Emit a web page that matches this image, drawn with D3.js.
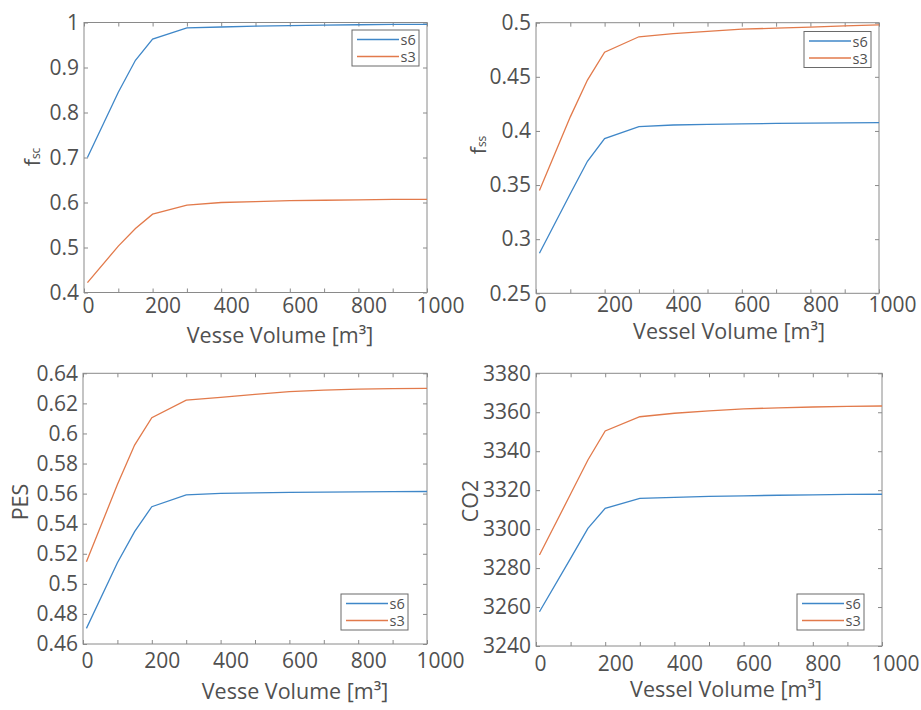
<!DOCTYPE html>
<html>
<head>
<meta charset="utf-8">
<script src="https://cdn.jsdelivr.net/npm/d3@7"></script>
<style>
body { margin: 0; background: #fff; }
svg text { font-family: "Open Sans", sans-serif; fill: #505050; }
</style>
</head>
<body>
<script>

// vessel volume [m3] used in the runs
var volume = [10, 100, 150, 200, 300, 400, 500, 600, 700, 800, 900, 1000];

// f_sc
var fscS6 = [0.700, 0.845, 0.916, 0.963, 0.988, 0.990, 0.992, 0.993, 0.994, 0.995, 0.996, 0.996];
var fscS3 = [0.422, 0.503, 0.542, 0.574, 0.594, 0.600, 0.602, 0.604, 0.605, 0.606, 0.607, 0.607];

// f_ss
var fssS6 = [0.287, 0.342, 0.372, 0.393, 0.404, 0.4055, 0.406, 0.4065, 0.407, 0.4072, 0.4074, 0.4076];
var fssS3 = [0.345, 0.413, 0.447, 0.4727, 0.487, 0.490, 0.492, 0.494, 0.495, 0.496, 0.497, 0.498];

// PES
var pesS6 = [0.4704, 0.514, 0.5347, 0.5513, 0.5591, 0.5602, 0.5605, 0.5608, 0.561, 0.5612, 0.5613, 0.5614];
var pesS3 = [0.5147, 0.566, 0.5923, 0.6105, 0.6222, 0.624, 0.626, 0.6278, 0.6288, 0.6295, 0.6298, 0.630];

// CO2
var co2S6 = [3257.6, 3285, 3300.4, 3310.7, 3315.8, 3316.3, 3316.8, 3317.1, 3317.4, 3317.6, 3317.8, 3317.9];
var co2S3 = [3286.7, 3318, 3335.5, 3350.4, 3357.7, 3359.5, 3360.7, 3361.7, 3362.3, 3362.7, 3363.0, 3363.2];

var seriesNames = ["s6", "s3"];
var seriesColors = ["#3f87c8", "#e27a4b"];

var xTicks = [0, 100, 200, 300, 400, 500, 600, 700, 800, 900, 1000];
var fscTicks = [0.4, 0.5, 0.6, 0.7, 0.8, 0.9, 1];
var fssTicks = [0.25, 0.3, 0.35, 0.4, 0.45, 0.5];
var pesTicks = [0.46, 0.48, 0.5, 0.52, 0.54, 0.56, 0.58, 0.6, 0.62, 0.64];
var co2Ticks = [3240, 3260, 3280, 3300, 3320, 3340, 3360, 3380];

var panels = [
  { s6: fscS6, s3: fscS3, ticks: fscTicks, yLabel: "f", ySub: "sc", xLabel: "Vesse Volume [m\u00b3]",
    box: [84, 22.5, 427, 292.5], xLabY: 6, yLabPos: [31, 157], xLabPos: [280, 334],
    legend: [352, 30] },
  { s6: fssS6, s3: fssS3, ticks: fssTicks, yLabel: "f", ySub: "ss", xLabel: "Vessel Volume [m\u00b3]",
    box: [536, 22.7, 879, 293.3], xLabY: 4, yLabPos: [477, 145], xLabPos: [729, 330],
    legend: [804, 31.5] },
  { s6: pesS6, s3: pesS3, ticks: pesTicks, yLabel: "PES", xLabel: "Vesse Volume [m\u00b3]",
    box: [83, 373.3, 427, 644], xLabY: 9, yLabPos: [19, 502], xLabPos: [295, 690],
    legend: [341, 594] },
  { s6: co2S6, s3: co2S3, ticks: co2Ticks, yLabel: "CO2", xLabel: "Vessel Volume [m\u00b3]",
    box: [536, 373.3, 882, 646], xLabY: 10.5, yLabPos: [469, 501], xLabPos: [726, 688],
    legend: [797, 594] }
];

var svg = d3.select("body").append("svg")
  .attr("width", 921)
  .attr("height", 710);

panels.forEach(function(p) {
  var x0 = p.box[0], y0 = p.box[1], x1 = p.box[2], y1 = p.box[3];

  var x = d3.scaleLinear().domain([0, 1000]).range([x0, x1]);
  var y = d3.scaleLinear().domain(d3.extent(p.ticks)).range([y1, y0]);

  var g = svg.append("g");

  // ticks pointing inward on all four sides
  var bottom = g.append("g").attr("transform", "translate(0," + y1 + ")")
    .call(d3.axisBottom(x).tickValues(xTicks).tickSizeInner(-4).tickSizeOuter(0)
      .tickFormat(function(d) { return d % 200 === 0 ? d : ""; }));
  bottom.selectAll("text")
    .attr("y", p.xLabY)
    .attr("dx", function(d) { return d === 0 ? 4 : (d === 1000 ? 13 : 10); })
    .style("font-size", "21px");

  g.append("g").attr("transform", "translate(0," + y0 + ")")
    .call(d3.axisTop(x).tickValues(xTicks).tickSizeInner(-4).tickSizeOuter(0).tickFormat(""));

  var left = g.append("g").attr("transform", "translate(" + x0 + ",0)")
    .call(d3.axisLeft(y).tickValues(p.ticks).tickSizeInner(-4).tickSizeOuter(0).tickPadding(5)
      .tickFormat(function(d) { return String(+d.toFixed(3)); }));
  left.selectAll("text").style("font-size", "21px");

  g.append("g").attr("transform", "translate(" + x1 + ",0)")
    .call(d3.axisRight(y).tickValues(p.ticks).tickSizeInner(-4).tickSizeOuter(0).tickFormat(""));

  g.selectAll(".domain").remove();
  g.selectAll(".tick line").attr("stroke", "#8a8a8a");

  g.append("rect")
    .attr("x", x0).attr("y", y0)
    .attr("width", x1 - x0).attr("height", y1 - y0)
    .attr("fill", "none")
    .attr("stroke", "#8a8a8a")
    .attr("stroke-width", 1);

  // series lines
  var line = d3.line()
    .x(function(d, i) { return x(volume[i]); })
    .y(function(d) { return y(d); });

  [p.s6, p.s3].forEach(function(vals, k) {
    g.append("path")
      .datum(vals)
      .attr("d", line)
      .attr("fill", "none")
      .attr("stroke", seriesColors[k])
      .attr("stroke-width", 1.3);
  });

  // axis titles
  g.append("text")
    .attr("x", p.xLabPos[0]).attr("y", p.xLabPos[1])
    .attr("text-anchor", "middle")
    .attr("dominant-baseline", "central")
    .style("font-size", "21.5px")
    .text(p.xLabel);

  var yt = g.append("text")
    .attr("transform", "translate(" + p.yLabPos[0] + "," + p.yLabPos[1] + ") rotate(-90)")
    .attr("text-anchor", "middle")
    .attr("dominant-baseline", "central")
    .style("font-size", "21.5px");
  yt.append("tspan").text(p.yLabel);
  if (p.ySub) {
    yt.append("tspan").attr("dy", 4).style("font-size", "12px").text(p.ySub);
  }

  // legend
  var lg = g.append("g").attr("transform", "translate(" + p.legend[0] + "," + p.legend[1] + ")");
  lg.append("rect")
    .attr("width", 67).attr("height", 36)
    .attr("fill", "#fff")
    .attr("stroke", "#6a6a6a")
    .attr("stroke-width", 1);
  seriesNames.forEach(function(name, k) {
    var ly = 9.5 + k * 17;
    lg.append("line")
      .attr("x1", 5).attr("x2", 47)
      .attr("y1", ly).attr("y2", ly)
      .attr("stroke", seriesColors[k])
      .attr("stroke-width", 1.3);
    lg.append("text")
      .attr("x", 48.5).attr("y", ly)
      .attr("dominant-baseline", "central")
      .style("font-size", "14.5px")
      .text(name);
  });
});

</script>
</body>
</html>
